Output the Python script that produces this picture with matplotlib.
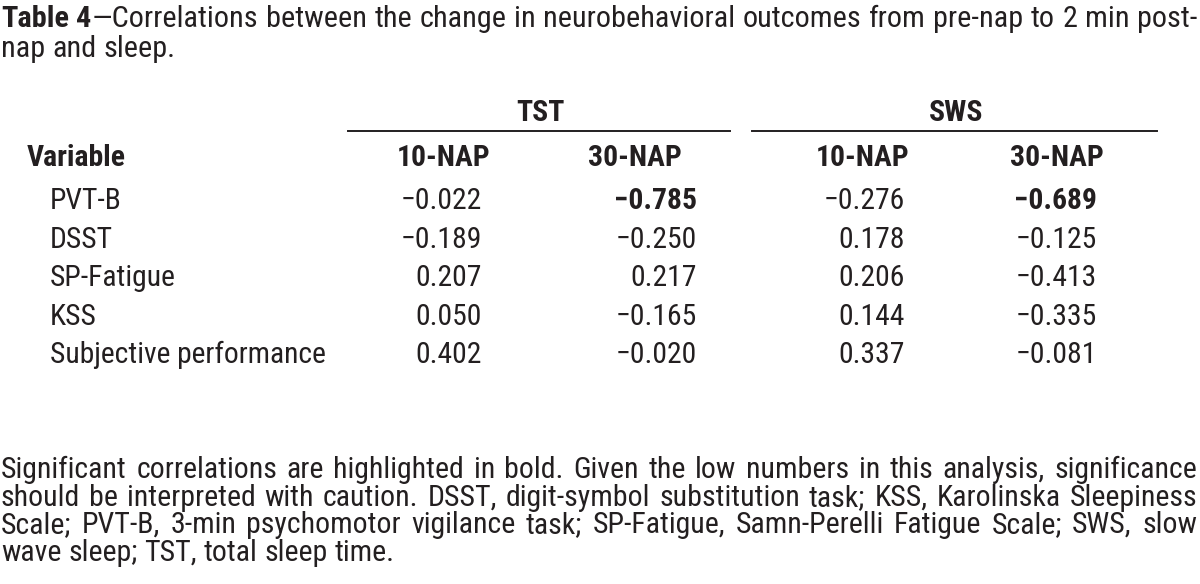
import matplotlib
matplotlib.use("Agg")
from matplotlib import pyplot as plt
from matplotlib import font_manager
from matplotlib.lines import Line2D

# Table content
variables = ["PVT-B", "DSST", "SP-Fatigue", "KSS", "Subjective performance"]
tst_10 = [-0.022, -0.189, 0.207, 0.050, 0.402]
tst_30 = [-0.785, -0.250, 0.217, -0.165, -0.020]
sws_10 = [-0.276, 0.178, 0.206, 0.144, 0.337]
sws_30 = [-0.689, -0.125, -0.413, -0.335, -0.081]
significant = {(0, 1), (0, 3)}  # (row, col) shown in bold
groups = ["TST", "SWS"]
sub_cols = ["10-NAP", "30-NAP", "10-NAP", "30-NAP"]

title_lines = [
    [[("Table", "bold")], [("4", "bold"), ("—Correlations", "normal")]] +
    [[(w, "normal")] for w in "between the change in neurobehavioral outcomes from pre-nap to 2 min post-".split()],
    [[(w, "normal")] for w in "nap and sleep.".split()],
]
footnote = [
    "Significant correlations are highlighted in bold. Given the low numbers in this analysis, significance",
    "should be interpreted with caution. DSST, digit-symbol substitution task; KSS, Karolinska Sleepiness",
    "Scale; PVT-B, 3-min psychomotor vigilance task; SP-Fatigue, Samn-Perelli Fatigue Scale; SWS, slow",
    "wave sleep; TST, total sleep time.",
]

names = {f.name for f in font_manager.fontManager.ttflist}
FONT = "Liberation Sans"
for cand in ["Liberation Sans Narrow", "Roboto Condensed", "PT Sans Narrow"]:
    if cand in names:
        FONT = cand
        break
INK = "#231f20"
W, H = 1200, 584

fig = plt.figure(figsize=(W / 100, H / 100), dpi=100)
fig.patch.set_facecolor("white")
renderer = fig.canvas.get_renderer()


def px(x, y):
    return x / W, 1 - y / H


def put(x, y, s, size=21, weight="normal", ha="left"):
    return fig.text(*px(x, y), s, fontsize=size, fontweight=weight, ha=ha,
                    va="baseline", family=FONT, color=INK)


def width(s, size, weight):
    t = put(0, 0, s, size, weight)
    w = t.get_window_extent(renderer=renderer).width
    t.remove()
    return w


def put_line(words, y, x0, x1, size, justify=True):
    # words: list of words, each a list of (text, weight) pieces
    ws = [[width(s, size, wt) for s, wt in word] for word in words]
    total = sum(sum(w) for w in ws)
    space = width("a b", size, "normal") - width("ab", size, "normal")
    if justify and len(words) > 1:
        gap = (x1 - x0 - total) / (len(words) - 1)
    else:
        gap = space
    x = x0
    for word, wl in zip(words, ws):
        for (s, wt), w in zip(word, wl):
            put(x, y, s, size, wt)
            x += w
        x += gap


def fmt(v):
    return ("−" if v < 0 else "") + f"{abs(v):.3f}"


BODY = 21.3

# title
put_line(title_lines[0], 27, 1, 1197, 21.8, justify=True)
put_line(title_lines[1], 57, 1, 1197, 21.8, justify=False)

# group headers and rules
group_center = [540, 956]
group_span = [(348, 730), (752, 1157)]
for g, xc, (a, b) in zip(groups, group_center, group_span):
    put(xc, 121, g, BODY, "bold", ha="center")
    fig.add_artist(Line2D([a / W, b / W], [1 - 131 / H, 1 - 131 / H],
                          color=INK, lw=1.4, transform=fig.transFigure))

col_center = [444, 635, 863, 1057]
col_right = [482, 697, 905, 1097]
put(27, 166, "Variable", BODY, "bold")
for name, xc in zip(sub_cols, col_center):
    put(xc, 166, name, BODY, "bold", ha="center")

columns = [tst_10, tst_30, sws_10, sws_30]
row_base = [209, 248, 286, 325, 363]
for i, (var, yb) in enumerate(zip(variables, row_base)):
    put(50, yb, var, BODY)
    for j, (vals, xr) in enumerate(zip(columns, col_right)):
        wt = "bold" if (i, j) in significant else "normal"
        put(xr, yb, fmt(vals[i]), BODY, wt, ha="right")

# footnote
foot_base = [478, 506, 533, 561]
for k, (line, yb) in enumerate(zip(footnote, foot_base)):
    words = [[(w, "normal")] for w in line.split()]
    put_line(words, yb, 1, 1197, 21.5, justify=(k < len(footnote) - 1))

fig.savefig("out.png", dpi=100, facecolor="white")
